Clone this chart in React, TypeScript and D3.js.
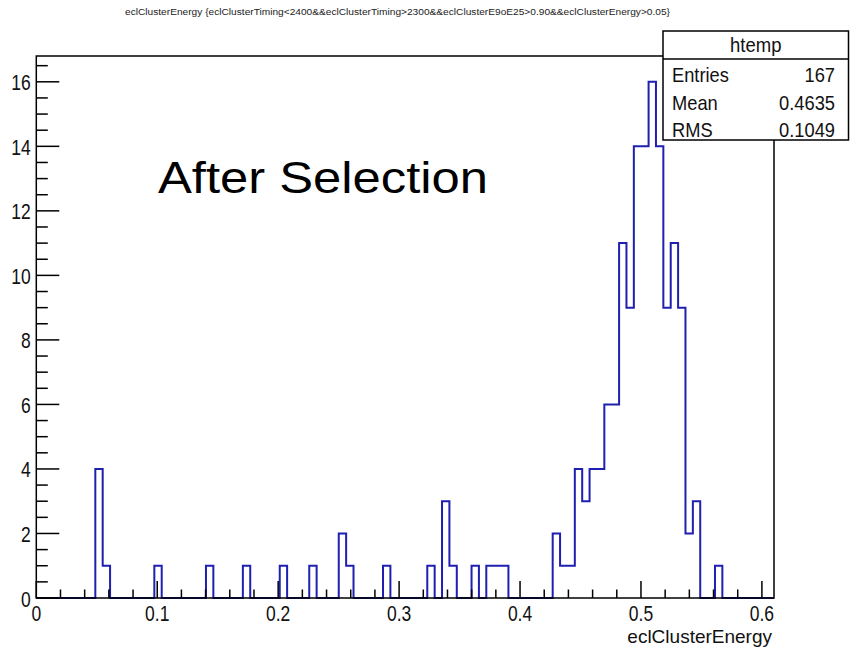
import React from "react";
import * as d3 from "d3";

// ---- Data ----
const histTitle =
  "eclClusterEnergy {eclClusterTiming<2400&&eclClusterTiming>2300&&eclClusterE9oE25>0.90&&eclClusterEnergy>0.05}";
const xAxisTitle = "eclClusterEnergy";
const annotation = "After Selection";
const statsName = "htemp";
const statsLabels = ["Entries", "Mean", "RMS"];
const statsValues = ["167", "0.4635", "0.1049"];
const xMin = 0;
const xMax = 0.61;
const nBins = 100;
const yMax = 16.8;
const xTicks = [0, 0.1, 0.2, 0.3, 0.4, 0.5, 0.6];
const yTicks = [0, 2, 4, 6, 8, 10, 12, 14, 16];
// counts per bin (100 bins from 0 to 0.61)
const binCounts = [
  0, 0, 0, 0, 0, 0, 0, 0, 4, 1,
  0, 0, 0, 0, 0, 0, 1, 0, 0, 0,
  0, 0, 0, 1, 0, 0, 0, 0, 1, 0,
  0, 0, 0, 1, 0, 0, 0, 1, 0, 0,
  0, 2, 1, 0, 0, 0, 0, 1, 0, 0,
  0, 0, 0, 1, 0, 3, 1, 0, 0, 1,
  0, 1, 1, 1, 0, 0, 0, 0, 0, 0,
  2, 1, 1, 4, 3, 4, 4, 6, 6, 11,
  9, 14, 14, 16, 14, 9, 11, 9, 2, 3,
  0, 0, 1, 0, 0, 0, 0, 0, 0, 0,
];

const FONT = "'Liberation Sans', Arial, Helvetica, sans-serif";

export default function App() {
  const W = 856;
  const H = 650;
  const frame = { left: 36.3, right: 774, top: 56, bottom: 598 };

  const x = d3.scaleLinear().domain([xMin, xMax]).range([frame.left, frame.right]);
  const y = d3.scaleLinear().domain([0, yMax]).range([frame.bottom, frame.top]);

  const bw = (xMax - xMin) / nBins;
  const pts: [number, number][] = [[xMin, 0]];
  binCounts.forEach((c, i) => pts.push([xMin + i * bw, c]));
  pts.push([xMax, 0]);
  const line = d3
    .line<[number, number]>()
    .x((d) => x(d[0]))
    .y((d) => y(d[1]))
    .curve(d3.curveStepAfter);

  // minor ticks
  const xMinor = d3.range(0, 0.6101, 0.02).filter((v) => Math.abs(v * 10 - Math.round(v * 10)) > 1e-6);
  const yMinor = d3.range(0, yMax + 0.001, 0.5).filter((v) => Math.abs(v / 2 - Math.round(v / 2)) > 1e-6);

  const tickFs = 17.5;
  const tickSy = 1.25;

  const box = { l: 663, t: 31, r: 848.5, b: 140, hdr: 59 };
  const rowY = [82, 110, 137];

  return (
    <svg width={W} height={H} style={{ display: "block", position: "absolute", left: 0, top: 0, background: "#fff" }}>
      <rect x={0} y={0} width={W} height={H} fill="#fff" />
      {/* title */}
      <text x={125} y={15} fontFamily={FONT} fontSize={8.5} textLength={545} lengthAdjust="spacingAndGlyphs" fill="#222">
        {histTitle}
      </text>

      {/* histogram */}
      <path d={line(pts) || ""} fill="none" stroke="#1f1fb0" strokeWidth={2} strokeLinejoin="miter" />

      {/* frame */}
      <rect
        x={frame.left}
        y={frame.top}
        width={frame.right - frame.left}
        height={frame.bottom - frame.top}
        fill="none"
        stroke="#000"
        strokeWidth={1.5}
      />

      {/* x ticks */}
      {xTicks.map((t) => (
        <line key={"xt" + t} x1={x(t)} x2={x(t)} y1={frame.bottom} y2={frame.bottom - 17} stroke="#000" strokeWidth={1.5} />
      ))}
      {xMinor.map((t) => (
        <line key={"xm" + t} x1={x(t)} x2={x(t)} y1={frame.bottom} y2={frame.bottom - 8.5} stroke="#000" strokeWidth={1.5} />
      ))}
      {xTicks.map((t) => (
        <text
          key={"xl" + t}
          transform={`translate(${x(t)},${620.5}) scale(1,${tickSy})`}
          textAnchor="middle"
          fontFamily={FONT}
          fontSize={tickFs}
          fill="#111"
        >
          {d3.format("")(t)}
        </text>
      ))}

      {/* y ticks */}
      {yTicks.map((t) => (
        <line key={"yt" + t} x1={frame.left} x2={frame.left + 23} y1={y(t)} y2={y(t)} stroke="#000" strokeWidth={1.5} />
      ))}
      {yMinor.map((t) => (
        <line key={"ym" + t} x1={frame.left} x2={frame.left + 11.5} y1={y(t)} y2={y(t)} stroke="#000" strokeWidth={1.5} />
      ))}
      {yTicks.map((t) => (
        <text
          key={"yl" + t}
          transform={`translate(${30.7},${y(t) + 8.5}) scale(1,${tickSy})`}
          textAnchor="end"
          fontFamily={FONT}
          fontSize={tickFs}
          fill="#111"
        >
          {t}
        </text>
      ))}

      {/* axis title */}
      <text x={772} y={643} textAnchor="end" fontFamily={FONT} fontSize={19} fill="#111">
        {xAxisTitle}
      </text>

      {/* annotation */}
      <text x={158} y={193} fontFamily={FONT} fontSize={44} textLength={330} lengthAdjust="spacingAndGlyphs" fill="#000">
        {annotation}
      </text>

      {/* stats box */}
      <rect x={box.l} y={box.t} width={box.r - box.l} height={box.b - box.t} fill="#fff" stroke="#000" strokeWidth={1.5} />
      <line x1={box.l} x2={box.r} y1={box.hdr} y2={box.hdr} stroke="#000" strokeWidth={1.5} />
      <text
        transform={`translate(${(box.l + box.r) / 2},${52}) scale(1,1.1)`}
        textAnchor="middle"
        fontFamily={FONT}
        fontSize={18.5}
        fill="#111"
      >
        {statsName}
      </text>
      {statsLabels.map((lab, i) => (
        <g key={lab}>
          <text
            transform={`translate(${672},${rowY[i]}) scale(1,1.1)`}
            fontFamily={FONT}
            fontSize={18.3}
            fill="#111"
          >
            {lab}
          </text>
          <text
            transform={`translate(${835},${rowY[i]}) scale(1,1.1)`}
            textAnchor="end"
            fontFamily={FONT}
            fontSize={18.3}
            fill="#111"
          >
            {statsValues[i]}
          </text>
        </g>
      ))}
    </svg>
  );
}
